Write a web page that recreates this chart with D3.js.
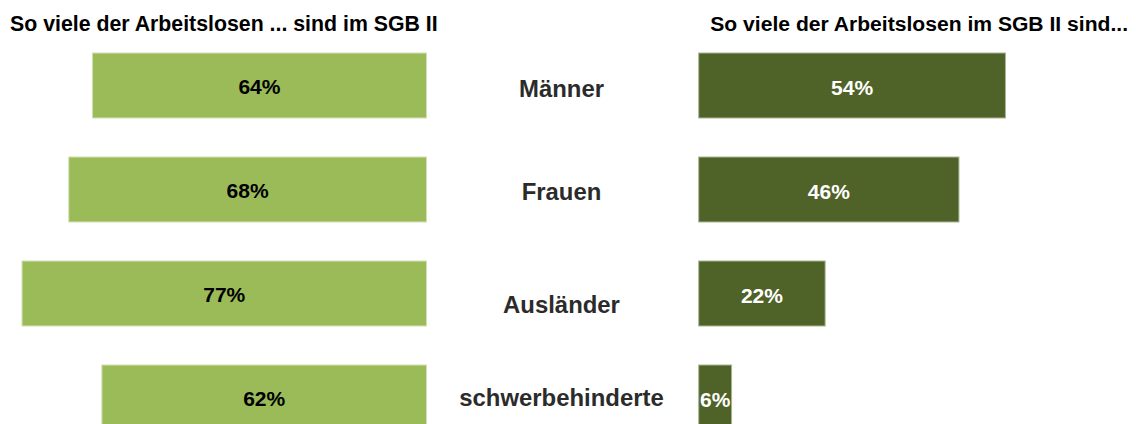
<!DOCTYPE html>
<html>
<head>
<meta charset="utf-8">
<script src="https://cdn.jsdelivr.net/npm/d3@7"></script>
<style>
  html, body { margin: 0; padding: 0; background: #fff; overflow: hidden; }
  svg { display: block; font-family: "Liberation Sans", Arial, sans-serif; font-weight: bold; }
</style>
</head>
<body>
<svg id="chart" width="1136" height="424"></svg>
<script>
// ---- data ----
const categories = ["Männer", "Frauen", "Ausländer", "schwerbehinderte"];
const shareInSGB2 = [63.6, 68.1, 77.0, 61.8];       // left: "So viele der Arbeitslosen ... sind im SGB II"
const shareOfSGB2 = [54.1, 45.9, 22.3, 5.8];        // right: "So viele der Arbeitslosen im SGB II sind..."
const titleLeft = "So viele der Arbeitslosen ... sind im SGB II";
const titleRight = "So viele der Arbeitslosen im SGB II sind...";

// ---- layout (not data) ----
const labelDy = [11, 10.5, 19, 8];

const svg = d3.select("#chart");

const y = d3.scaleBand()
  .domain(categories)
  .range([33.5, 449.5])
  .paddingInner(0.375)
  .paddingOuter(0.1875);

const xL = d3.scaleLinear().domain([0, 100]).range([426.5, 426.5 - 525.3]);
const xR = d3.scaleLinear().domain([0, 100]).range([698.7, 698.7 + 567]);

const fmt = v => Math.round(v) + "%";

// titles
svg.append("text").attr("x", 10).attr("y", 30.5)
  .attr("font-size", 21.3).attr("fill", "#000").text(titleLeft);
svg.append("text").attr("x", 1128).attr("y", 30.5).attr("text-anchor", "end")
  .attr("font-size", 21.1).attr("fill", "#000").text(titleRight);

// left bars
const left = svg.append("g");
left.selectAll("rect").data(categories).join("rect")
  .attr("x", (d, i) => xL(shareInSGB2[i]))
  .attr("y", d => y(d))
  .attr("width", (d, i) => xL(0) - xL(shareInSGB2[i]))
  .attr("height", y.bandwidth())
  .attr("fill", "#9BBB59")
  .attr("stroke", "#d3e1b6").attr("stroke-width", 1);
left.selectAll("text").data(categories).join("text")
  .attr("x", (d, i) => (xL(0) + xL(shareInSGB2[i])) / 2)
  .attr("y", d => y(d) + y.bandwidth() / 2 + 8.7)
  .attr("text-anchor", "middle").attr("font-size", 21).attr("fill", "#000")
  .text((d, i) => fmt(shareInSGB2[i]));

// right bars
const right = svg.append("g");
right.selectAll("rect").data(categories).join("rect")
  .attr("x", xR(0))
  .attr("y", d => y(d))
  .attr("width", (d, i) => xR(shareOfSGB2[i]) - xR(0))
  .attr("height", y.bandwidth())
  .attr("fill", "#4F6228")
  .attr("stroke", "#a9b695").attr("stroke-width", 1);
right.selectAll("text").data(categories).join("text")
  .attr("x", (d, i) => (xR(0) + xR(shareOfSGB2[i])) / 2)
  .attr("y", d => y(d) + y.bandwidth() / 2 + 9)
  .attr("text-anchor", "middle").attr("font-size", 21).attr("fill", "#fff")
  .text((d, i) => fmt(shareOfSGB2[i]));

// category labels
svg.append("g").selectAll("text").data(categories).join("text")
  .attr("x", 561.5)
  .attr("y", (d, i) => y(d) + y.bandwidth() / 2 + labelDy[i])
  .attr("text-anchor", "middle").attr("font-size", 23.9).attr("fill", "#2b2b2b")
  .text(d => d);
</script>
</body>
</html>
